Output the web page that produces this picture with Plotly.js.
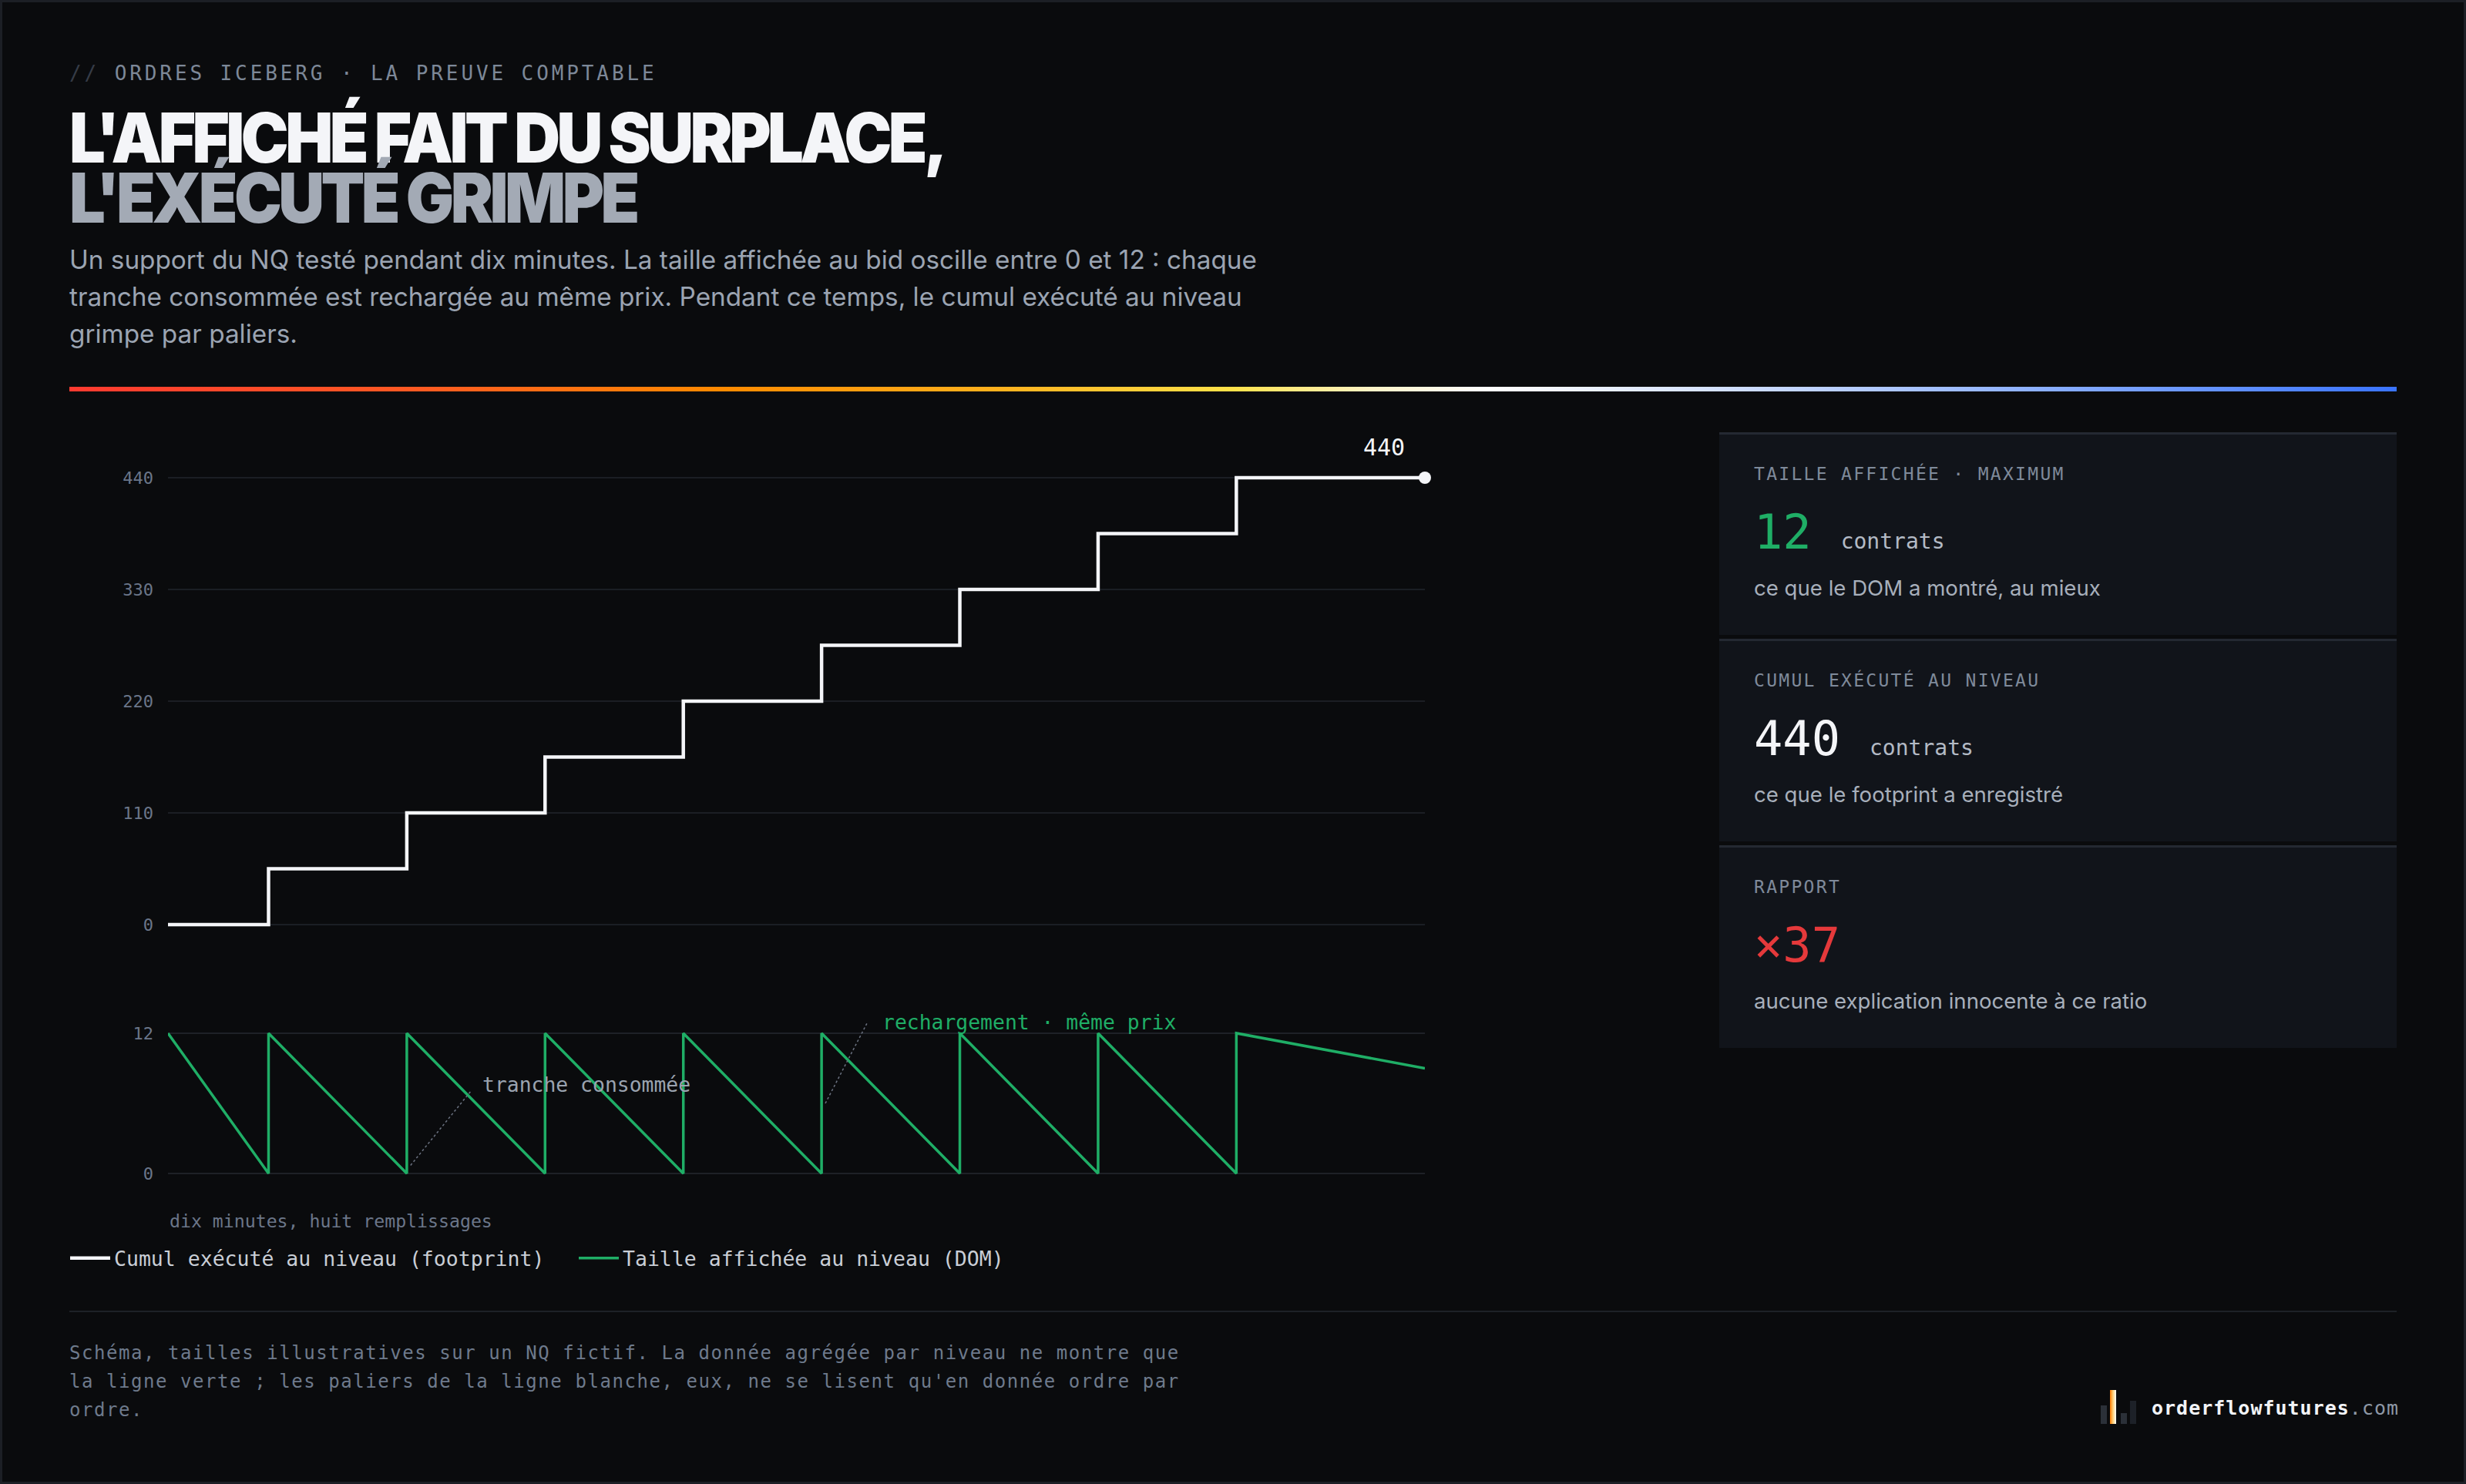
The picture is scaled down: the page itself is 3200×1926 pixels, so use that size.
<!DOCTYPE html>
<html lang="fr">
<head>
<meta charset="utf-8">
<script src="https://cdn.plot.ly/plotly-3.0.1.min.js"></script>
<style>
  html, body { margin:0; padding:0; background:#0a0b0d; }
  #page { position:relative; width:3200px; height:1926px; background:#0a0b0d; overflow:hidden; box-sizing:border-box; border:3px solid #1c1f25; }
  .abs { position:absolute; white-space:nowrap; }
  .mono { font-family:"DejaVu Sans Mono", "Liberation Mono", monospace; }
  .sans { font-family:Inter, "Noto Sans", sans-serif; }
  #eyebrow { left:87px; top:79px; font-size:26px; line-height:26px; letter-spacing:0.15em; color:#7d8898; }
  #eyebrow span { color:#363c47; }
  .title { left:87px; font-size:90px; line-height:76px; font-weight:900; letter-spacing:-0.055em; transform:scaleX(0.92); transform-origin:0 50%; }
  #t1 { top:138px; color:#f4f5f8; }
  #t2 { top:216px; color:#a3aab5; }
  #sub { left:87px; top:310px; font-size:33.3px; line-height:48px; color:#9ba4b2; white-space:normal; width:1600px; }
  #grad { left:87px; top:499px; width:3020px; height:6px;
    background:linear-gradient(90deg,#ff3a30 0%,#ff5a22 15%,#ff8a00 28%,#ffb21e 40%,#ffe24a 50%,#fff4c8 56%,#ffffff 61%,#d8e4ff 70%,#8fb2ff 84%,#3a74ff 100%); }
  #chart { position:absolute; left:-3px; top:-3px; width:3200px; height:1926px; }
  .card { position:absolute; left:2228px; width:879px; height:260px; background:#11141a; border-top:3px solid #242932; }
  .lab { position:absolute; left:45px; top:40px; font-size:23px; line-height:23px; letter-spacing:0.1em; color:#7f8a9a; }
  .row { position:absolute; left:45px; top:96px; display:flex; align-items:baseline; }
  .big { font-size:62px; line-height:62px; }
  .unit { font-size:28px; margin-left:38px; color:#b3bac5; }
  .desc { position:absolute; left:45px; top:185px; font-size:27.6px; line-height:28px; color:#a7afbb; }
  #rule { left:87px; top:1698px; width:3020px; height:2px; background:#1d2127; }
  #foot { left:87px; top:1735px; font-size:24px; line-height:37px; letter-spacing:0.065em; color:#6e7a8c; white-space:pre; }
  #brand { left:2789px; top:1810px; font-size:25px; line-height:30px; font-weight:bold; letter-spacing:0.04em; color:#f2f4f7; }
  #brand span { color:#8e98a6; font-weight:normal; }
  .bar { position:absolute; width:8px; }
</style>
</head>
<body>
<div id="page">
  <div id="eyebrow" class="abs mono"><span>//</span> ORDRES ICEBERG · LA PREUVE COMPTABLE</div>
  <div id="t1" class="abs sans title">L'AFFICHÉ FAIT DU SURPLACE,</div>
  <div id="t2" class="abs sans title">L'EXÉCUTÉ GRIMPE</div>
  <div id="sub" class="abs sans">Un support du NQ testé pendant dix minutes. La taille affichée au bid oscille entre 0 et 12 : chaque tranche consommée est rechargée au même prix. Pendant ce temps, le cumul exécuté au niveau grimpe par paliers.</div>
  <div id="grad" class="abs"></div>

  <div id="chart"></div>

  <div class="card" style="top:558px;">
    <div class="lab mono">TAILLE AFFICHÉE · MAXIMUM</div>
    <div class="row mono"><span class="big" style="color:#1fae66;">12</span><span class="unit">contrats</span></div>
    <div class="desc sans">ce que le DOM a montré, au mieux</div>
  </div>
  <div class="card" style="top:826px;">
    <div class="lab mono">CUMUL EXÉCUTÉ AU NIVEAU</div>
    <div class="row mono"><span class="big" style="color:#f4f5f8;">440</span><span class="unit">contrats</span></div>
    <div class="desc sans">ce que le footprint a enregistré</div>
  </div>
  <div class="card" style="top:1094px;">
    <div class="lab mono">RAPPORT</div>
    <div class="row mono"><span class="big" style="color:#e5393b;">×37</span></div>
    <div class="desc sans">aucune explication innocente à ce ratio</div>
  </div>

  <div id="rule" class="abs"></div>
  <div id="foot" class="abs mono">Schéma, tailles illustratives sur un NQ fictif. La donnée agrégée par niveau ne montre que
la ligne verte ; les paliers de la ligne blanche, eux, ne se lisent qu'en donnée ordre par
ordre.</div>

  <div class="bar" style="left:2723px; top:1821px; height:24px; background:#2b3038;"></div>
  <div class="bar" style="left:2735px; top:1801px; height:44px; background:linear-gradient(90deg,#ff7a00,#ffd27a,#ffffff);"></div>
  <div class="bar" style="left:2749px; top:1831px; height:14px; background:#2b3038;"></div>
  <div class="bar" style="left:2761px; top:1815px; height:30px; background:#1d2128;"></div>
  <div id="brand" class="abs mono">orderflowfutures<span>.com</span></div>
</div>

<script>
// ---- data ----
const minutes      = [0, 0.8, 1.9, 3.0, 4.1, 5.2, 6.3, 7.4, 8.5, 10];
const cumulExecute = [0, 55, 110, 165, 220, 275, 330, 385, 440, 440];
const domMinutes   = [0, 0.8, 0.8, 1.9, 1.9, 3.0, 3.0, 4.1, 4.1, 5.2, 5.2, 6.3, 6.3, 7.4, 7.4, 8.5, 8.5, 10];
const domTaille    = [12, 0, 12, 0, 12, 0, 12, 0, 12, 0, 12, 0, 12, 0, 12, 0, 12, 9];
const cumulTicks   = [0, 110, 220, 330, 440];
const domTicks     = [0, 12];
const seriesNames  = ["Cumul exécuté au niveau (footprint)", "Taille affichée au niveau (DOM)"];

// ---- layout helpers (pixel -> paper) ----
const W = 3200, H = 1926, L = 218, R = 1351;
const py = p => 1 - p / H;
const px = p => (p - L) / (W - L - R);

const MONO = '"DejaVu Sans Mono", "Liberation Mono", monospace';
const white = '#f4f5f8', green = '#1fae66';
const last = minutes.length - 1;

const traces = [
  { x: minutes, y: cumulExecute, xaxis: 'x', yaxis: 'y', type: 'scatter', mode: 'lines',
    line: { shape: 'hv', color: white, width: 4.5 }, name: seriesNames[0], hoverinfo: 'skip' },
  { x: domMinutes, y: domTaille, xaxis: 'x', yaxis: 'y2', type: 'scatter', mode: 'lines',
    line: { color: green, width: 3.5 }, name: seriesNames[1], hoverinfo: 'skip' },
  { x: [minutes[last]], y: [cumulExecute[last]], xaxis: 'x', yaxis: 'y', type: 'scatter', mode: 'markers',
    marker: { color: white, size: 16 }, cliponaxis: false, showlegend: false, hoverinfo: 'skip' }
];

const tickfont = { family: MONO, size: 22, color: '#6b7689' };
const layout = {
  width: W, height: H,
  paper_bgcolor: 'rgba(0,0,0,0)', plot_bgcolor: 'rgba(0,0,0,0)',
  margin: { l: L, r: R, t: 0, b: 0, pad: 0 },
  showlegend: true,
  legend: { orientation: 'h', x: px(86), xanchor: 'left', y: py(1633), yanchor: 'middle',
            font: { family: MONO, size: 26.5, color: '#c9ced6' }, bgcolor: 'rgba(0,0,0,0)',
            itemwidth: 52, tracegroupgap: 0, entrywidth: 593, entrywidthmode: 'pixels' },
  xaxis: { range: [0, 10], domain: [0, 1], showgrid: false, zeroline: false, showticklabels: false,
           ticks: '', showline: false, anchor: 'y2', fixedrange: true },
  yaxis: { domain: [py(1219.8), py(600.2)], range: [-15, 455], tickvals: cumulTicks,
           showgrid: true, gridcolor: '#1b1e24', gridwidth: 2, zeroline: false, showline: false,
           ticks: '', tickfont: tickfont, ticklabelstandoff: 18, fixedrange: true },
  yaxis2: { domain: [py(1538.2), py(1325.8)], range: [-1, 13], tickvals: domTicks,
           showgrid: true, gridcolor: '#1e2127', gridwidth: 2, zeroline: false, showline: false,
           ticks: '', tickfont: tickfont, ticklabelstandoff: 18, fixedrange: true },
  annotations: [
    { x: minutes[last], y: cumulExecute[last], xref: 'x', yref: 'y', text: String(cumulExecute[last]),
      showarrow: false, xanchor: 'right', yanchor: 'middle', xshift: -24, yshift: 39,
      font: { family: MONO, size: 30, color: white } },
    { x: 2.49, y: 7.6, xref: 'x', yref: 'y2', text: 'tranche consommée', showarrow: false,
      xanchor: 'left', yanchor: 'middle', font: { family: MONO, size: 26.4, color: '#9aa3b0' } },
    { x: 5.67, y: 12.95, xref: 'x', yref: 'y2', text: 'rechargement · même prix', showarrow: false,
      xanchor: 'left', yanchor: 'middle', font: { family: MONO, size: 26.4, color: green } },
    { x: 0, y: py(1584), xref: 'paper', yref: 'paper', text: 'dix minutes, huit remplissages', showarrow: false,
      xanchor: 'left', yanchor: 'middle', font: { family: MONO, size: 23.2, color: '#6b7689' } }
  ],
  shapes: [
    { type: 'line', xref: 'x', yref: 'y2', x0: 1.93, y0: 0.7, x1: 2.41, y1: 7.05,
      line: { color: '#6b7280', width: 1.5, dash: 'dot' } },
    { type: 'line', xref: 'x', yref: 'y2', x0: 5.23, y0: 6.0, x1: 5.56, y1: 12.83,
      line: { color: '#6b7280', width: 1.5, dash: 'dot' } }
  ]
};

Plotly.newPlot('chart', traces, layout, { displayModeBar: false, staticPlot: true });
</script>
</body>
</html>
